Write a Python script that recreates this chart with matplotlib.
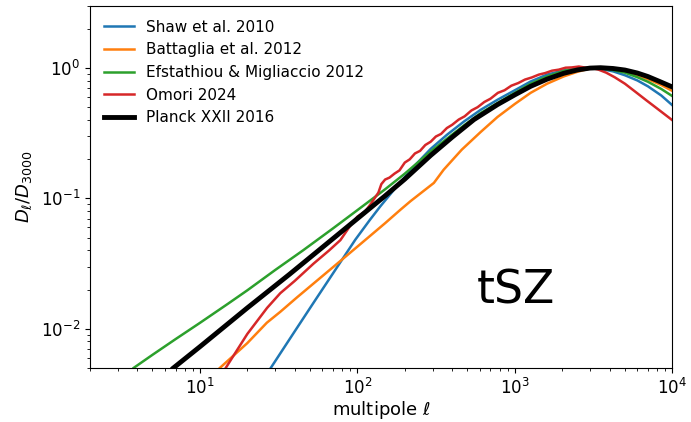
import numpy as np
import matplotlib.pyplot as plt

# D_ell / D_3000, per template
ell_shaw = [28.2, 40, 52.7, 74.1, 97.1, 120, 140, 180, 229, 292, 372, 475, 607, 776,
            1000, 1259, 1600, 2042, 2500, 3000, 3500, 4200, 5000, 6000, 7000, 8500, 10000]
dl_shaw = [0.00501, 0.00955, 0.01585, 0.02951, 0.0483, 0.06839, 0.0871, 0.1259, 0.1762,
           0.2399, 0.309, 0.389, 0.4786, 0.5715, 0.6761, 0.7889, 0.8913, 0.9594, 0.9931,
           1.0, 0.9863, 0.9441, 0.881, 0.8035, 0.7244, 0.6166, 0.5188]

ell_batt = [13.4, 20, 26.6, 32.4, 41.3, 67.3, 100, 150, 188, 218, 306, 353, 460, 607,
            776, 1000, 1259, 1600, 2042, 2500, 3000, 3500, 4200, 5000, 6000, 7000,
            8500, 10000]
dl_batt = [0.00501, 0.00776, 0.01112, 0.01349, 0.01738, 0.02851, 0.04266, 0.06457,
           0.08204, 0.0955, 0.1315, 0.166, 0.2366, 0.3236, 0.4217, 0.5309, 0.6457,
           0.7586, 0.863, 0.9376, 0.9931, 1.0, 0.9817, 0.9441, 0.881, 0.8222, 0.7413,
           0.6683]

ell_efst = [3.8, 5, 7, 10, 15, 20, 30, 45, 70, 100, 150, 200, 292, 400, 475, 607, 776,
            1000, 1259, 1600, 2042, 2500, 3000, 3500, 4200, 5000, 6000, 7000, 8500, 10000]
dl_efst = [0.00501, 0.00631, 0.00832, 0.01109, 0.01549, 0.01972, 0.02818, 0.03981,
           0.05888, 0.08128, 0.1175, 0.1549, 0.2291, 0.309, 0.3631, 0.4519, 0.5395,
           0.6457, 0.7586, 0.861, 0.9506, 0.9886, 1.0, 0.9954, 0.966, 0.9226, 0.8511,
           0.7852, 0.6918, 0.6095]

ell_omori = [14.6, 20, 26.7, 32.4, 40, 52.7, 66, 78, 90, 100, 112, 122, 130, 136, 142,
             150, 160, 172, 185, 200, 215, 232, 250, 270, 292, 315, 340, 370, 400, 440,
             480, 530, 580, 640, 700, 780, 860, 950, 1050, 1160, 1280, 1420, 1560, 1720,
             1900, 2100, 2300, 2550, 2800, 3100, 3400, 3800, 4300, 5000, 5800, 6800,
             8000, 10000]
dl_omori = [0.00501, 0.00912, 0.01445, 0.01875, 0.02328, 0.03162, 0.03981, 0.04786,
            0.06166, 0.07244, 0.07943, 0.09120, 0.1023, 0.1109, 0.1288, 0.1396, 0.1445,
            0.1549, 0.1641, 0.1884, 0.1995, 0.2213, 0.2317, 0.257, 0.2723, 0.2985,
            0.3126, 0.3467, 0.3673, 0.4027, 0.4266, 0.4732, 0.5012, 0.5495, 0.5821,
            0.6457, 0.6761, 0.7328, 0.7674, 0.8166, 0.8472, 0.8913, 0.9162, 0.955,
            0.9727, 1.007, 1.012, 1.028, 1.009, 1.0, 0.9727, 0.9226, 0.8511, 0.7586,
            0.6607, 0.5689, 0.4898, 0.3981]

ell_planck = [6.8, 10, 20, 36.9, 60, 100, 150, 200, 292, 400, 550, 776, 1000, 1259,
              1600, 2042, 2500, 3000, 3500, 4200, 5000, 6000, 7000, 8500, 10000]
dl_planck = [0.00501, 0.00728, 0.01445, 0.02606, 0.04217, 0.06998, 0.1047, 0.1406,
             0.2138, 0.2951, 0.4027, 0.5248, 0.6237, 0.7244, 0.8222, 0.912, 0.9683,
             1.0, 1.007, 0.9931, 0.9661, 0.9162, 0.861, 0.7798, 0.7161]

fig, ax = plt.subplots(figsize=(6.91, 4.22), dpi=100)
fig.subplots_adjust(left=0.13, right=0.973, bottom=0.128, top=0.986)

ax.plot(ell_shaw, dl_shaw, color='C0', lw=1.8, label='Shaw et al. 2010')
ax.plot(ell_batt, dl_batt, color='C1', lw=1.8, label='Battaglia et al. 2012')
ax.plot(ell_efst, dl_efst, color='C2', lw=1.8, label='Efstathiou & Migliaccio 2012')
ax.plot(ell_omori, dl_omori, color='C3', lw=1.8, label='Omori 2024')
ax.plot(ell_planck, dl_planck, color='k', lw=3.5, label='Planck XXII 2016')

ax.set_xscale('log')
ax.set_yscale('log')
ax.set_xlim(2, 1e4)
ax.set_ylim(5e-3, 3)
ax.tick_params(labelsize=12)
ax.set_xlabel(r'multipole $\ell$', fontsize=13, labelpad=1)
ax.set_ylabel(r'$D_\ell/D_{3000}$', fontsize=13, labelpad=5)
ax.text(0.665, 0.177, 'tSZ', transform=ax.transAxes, fontsize=33,
        ha='left', va='baseline')
ax.legend(loc='upper left', frameon=False, fontsize=11)

fig.savefig('out.png', dpi=100)
